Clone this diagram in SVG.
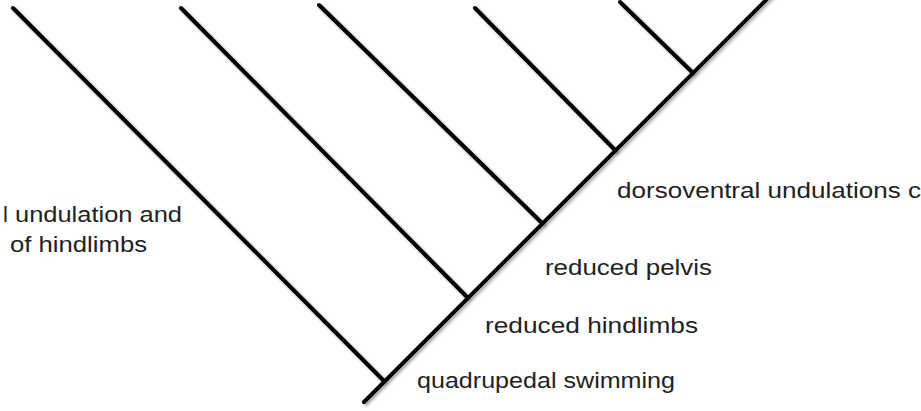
<svg xmlns="http://www.w3.org/2000/svg" width="921" height="411" viewBox="0 0 921 411">
<defs>
<filter id="sh" x="-10%" y="-10%" width="120%" height="120%">
<feDropShadow dx="2" dy="2" stdDeviation="1.5" flood-color="#000" flood-opacity="0.35"/>
</filter>
</defs>
<style>
.br{stroke:#000;stroke-width:4;stroke-linecap:round;fill:none;filter:url(#sh)}
.t{font-family:"Liberation Sans",Arial,sans-serif;font-size:22px;fill:#222}
</style>
<rect width="921" height="411" fill="#fff"/>
<g id="connectors">
<line class="br" x1="364" y1="402" x2="790" y2="-24"/>
<line class="br" x1="383" y1="380" x2="13" y2="8"/>
<line class="br" x1="467" y1="297" x2="181" y2="8"/>
<line class="br" x1="542" y1="223" x2="319" y2="5"/>
<line class="br" x1="615" y1="150" x2="475" y2="8"/>
<line class="br" x1="692" y1="72" x2="620" y2="2"/>
</g>
<g id="label-left">
<text class="t" x="3" y="222">l</text>
<text class="t" x="15" y="222" textLength="167" lengthAdjust="spacingAndGlyphs">undulation and</text>
<text class="t" x="10" y="252" textLength="137" lengthAdjust="spacingAndGlyphs">of hindlimbs</text>
</g>
<g id="label-quadrupedal"><text class="t" x="417" y="388" textLength="258" lengthAdjust="spacingAndGlyphs">quadrupedal swimming</text></g>
<g id="label-hindlimbs"><text class="t" x="485" y="333" textLength="213" lengthAdjust="spacingAndGlyphs">reduced hindlimbs</text></g>
<g id="label-pelvis"><text class="t" x="545" y="275" textLength="167" lengthAdjust="spacingAndGlyphs">reduced pelvis</text></g>
<g id="label-dorsoventral"><text class="t" x="617" y="198" textLength="304" lengthAdjust="spacingAndGlyphs">dorsoventral undulations c</text></g>
</svg>
